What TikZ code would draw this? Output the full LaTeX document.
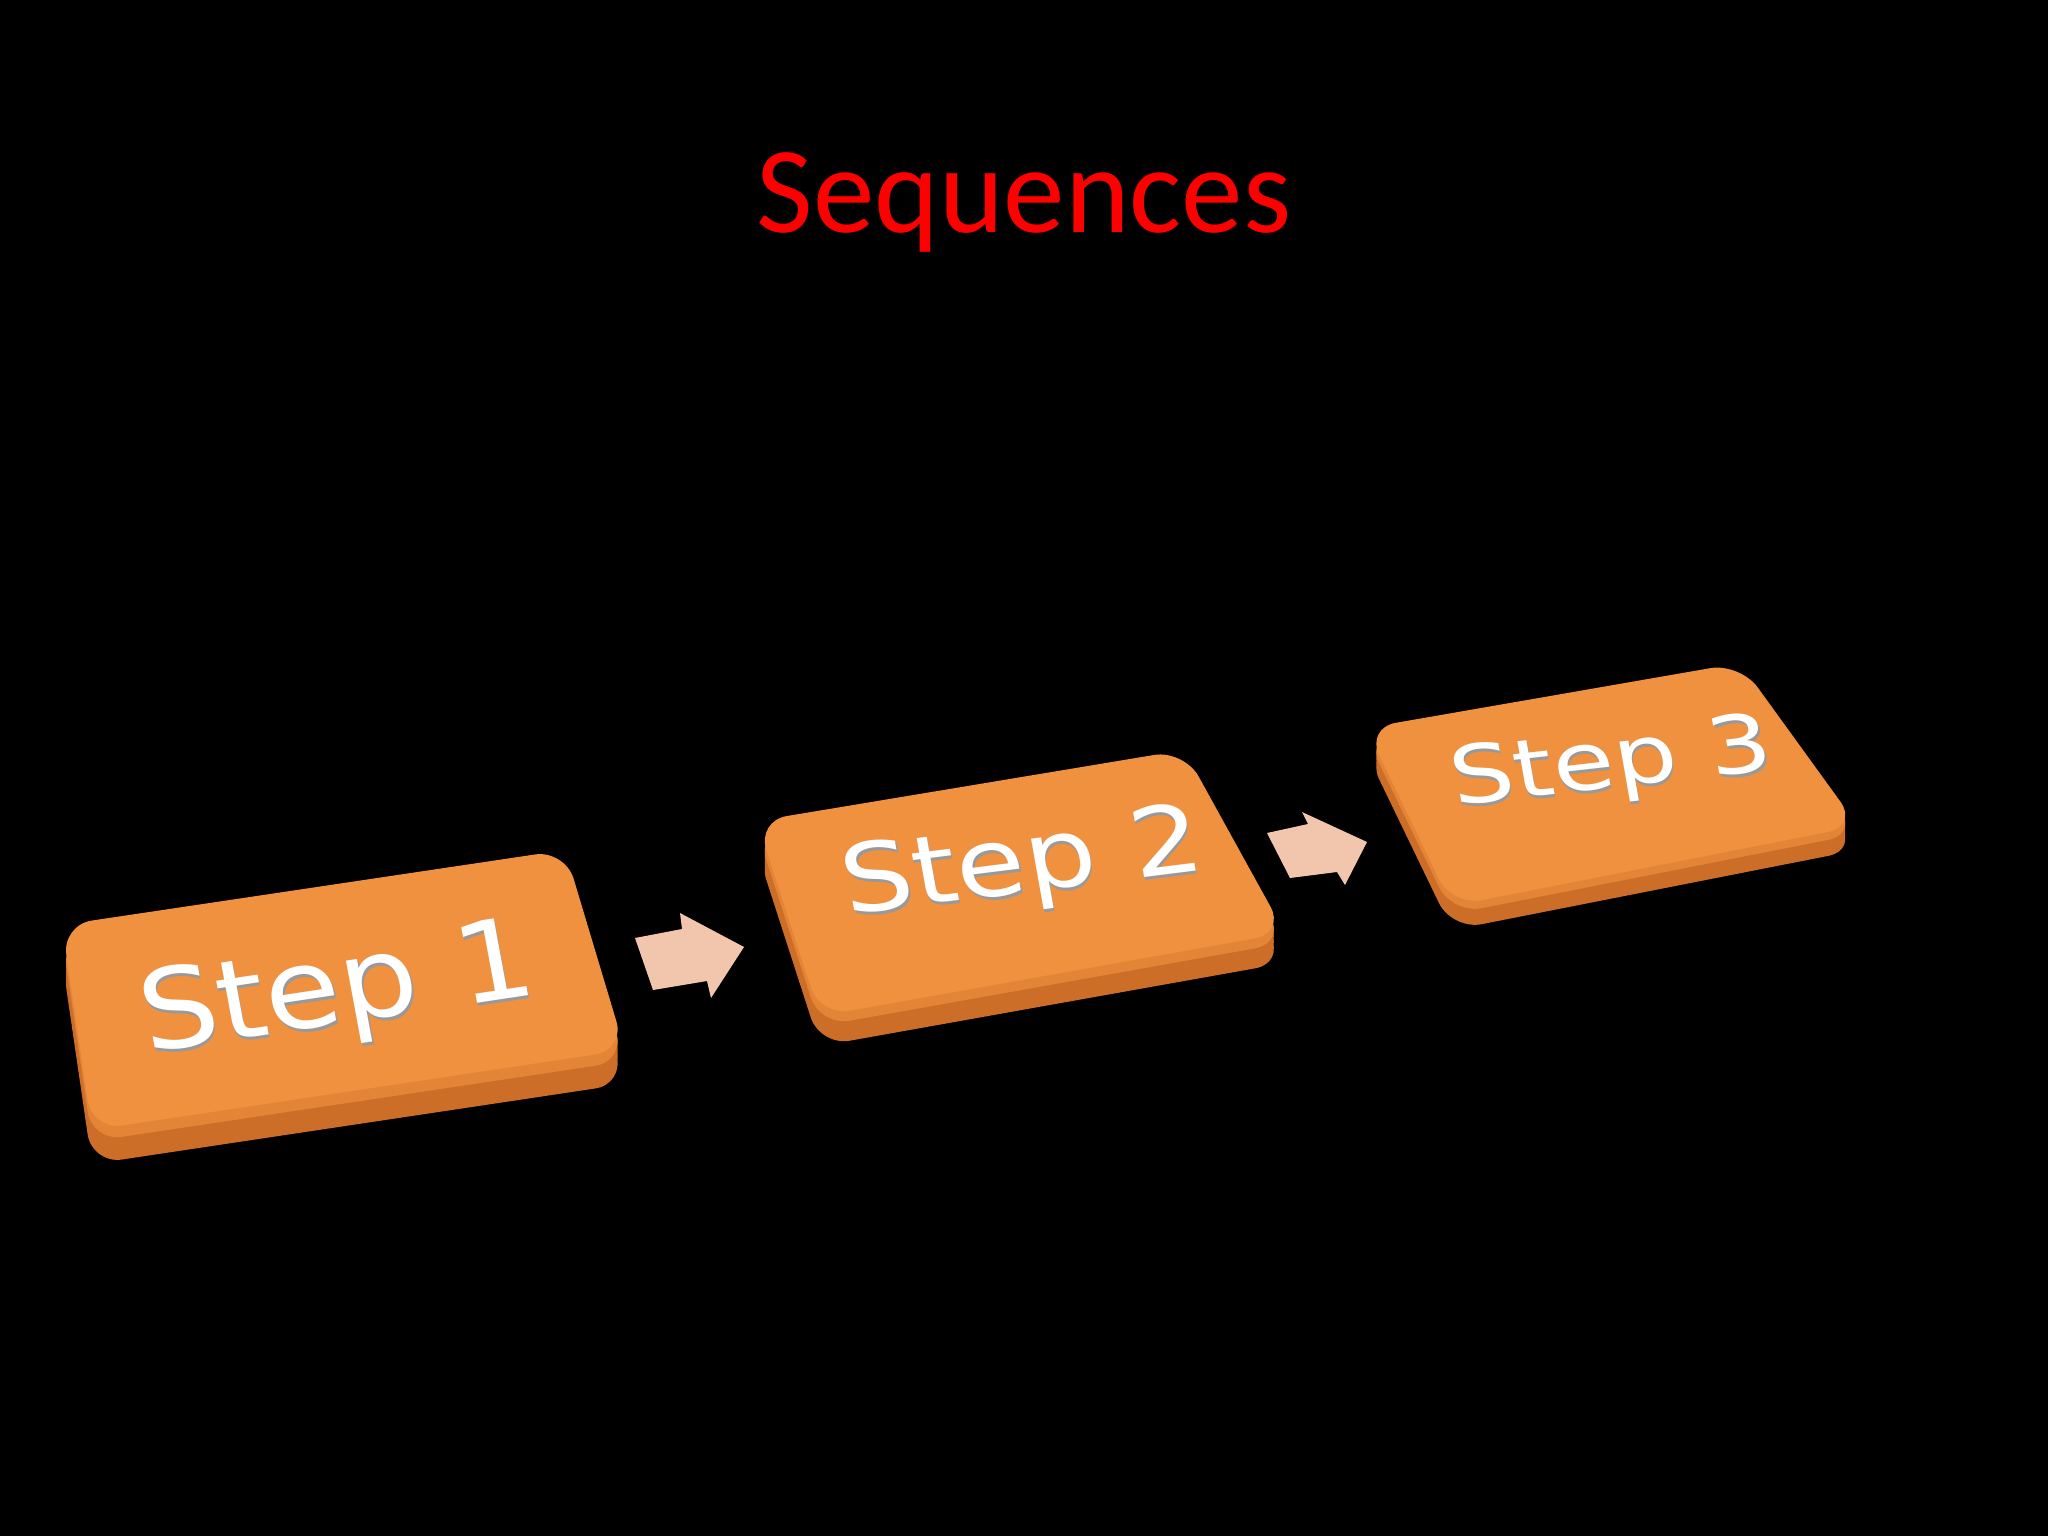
\documentclass[tikz,border=0pt]{standalone}
\usepackage{fontspec}
\setmainfont{Carlito}
\newfontfamily\stepfont{DejaVu Sans}
\usetikzlibrary{calc}
\definecolor{tiletop}{RGB}{240,145,64}
\definecolor{tilebevel}{RGB}{228,132,54}
\definecolor{tileside}{RGB}{204,110,40}
\definecolor{arrowfill}{RGB}{242,198,172}
\begin{document}
\begin{tikzpicture}[x={(0.01cm,0)},y={(0,-0.01cm)},inner sep=0pt,
  tilepart/.style={rounded corners=0.3cm},
  steptext/.style={text=white,font=\stepfont\fontsize{#1}{#1}\selectfont},
  stepshade/.style={text=black!40,font=\stepfont\fontsize{#1}{#1}\selectfont},
  blockarrow/.style={fill=arrowfill,line join=round}]
  \fill[black] (0,0) rectangle (2048,1536);
  \node[text=red,font=\fontsize{35}{42}\selectfont,anchor=base] (title) at (1024,232) {Sequences};
  % tiles: top face corners and thickness
  \foreach \ul/\ur/\lr/\ll/\t in {{62,925}/{565,850}/{625,1050}/{92,1130}/34,
      {757,821}/{1184,750}/{1285,933}/{820,1016}/30,
      {1366,728}/{1740,663}/{1858,826}/{1452,906}/24}
  {\foreach \f in {1,0.8,...,0.4}
    {\fill[tilepart,tileside] ($(\ul)+(0,\f*\t)$) -- ($(\ur)+(0,\f*\t)$) -- ($(\lr)+(0,\f*\t)$) -- ($(\ll)+(0,\f*\t)$) -- cycle;}
   \fill[tilepart,tilebevel] ($(\ul)+(0,\t/3)$) -- ($(\ur)+(0,\t/3)$) -- ($(\lr)+(0,\t/3)$) -- ($(\ll)+(0,\t/3)$) -- cycle;
   \fill[tilepart,tiletop] (\ul) -- (\ur) -- (\lr) -- (\ll) -- cycle;}
  \foreach \pos/\ang/\sz/\ys [count=\i] in {{338,994}/9.5/35/0.9,{1023,867}/8.5/32/0.84,{1612,766}/8/28.5/0.8}
  {\node[stepshade=\sz,yscale=\ys,rotate=\ang] (sh\i) at ($(\pos)+(1.5,3)$) {Step \i};
   \node[steptext=\sz,yscale=\ys,rotate=\ang] (s\i) at (\pos) {Step \i};}
  % arrows
  \fill[blockarrow] (635,938) -- (682,929) -- (680,913) -- (744,947) -- (711,998) -- (707,981) -- (653,990) -- cycle;
  \fill[blockarrow] (1267,833) -- (1308,824) -- (1302,812) -- (1367,842) -- (1345,885) -- (1337,872) -- (1290,878) -- cycle;
\end{tikzpicture}
\end{document}
